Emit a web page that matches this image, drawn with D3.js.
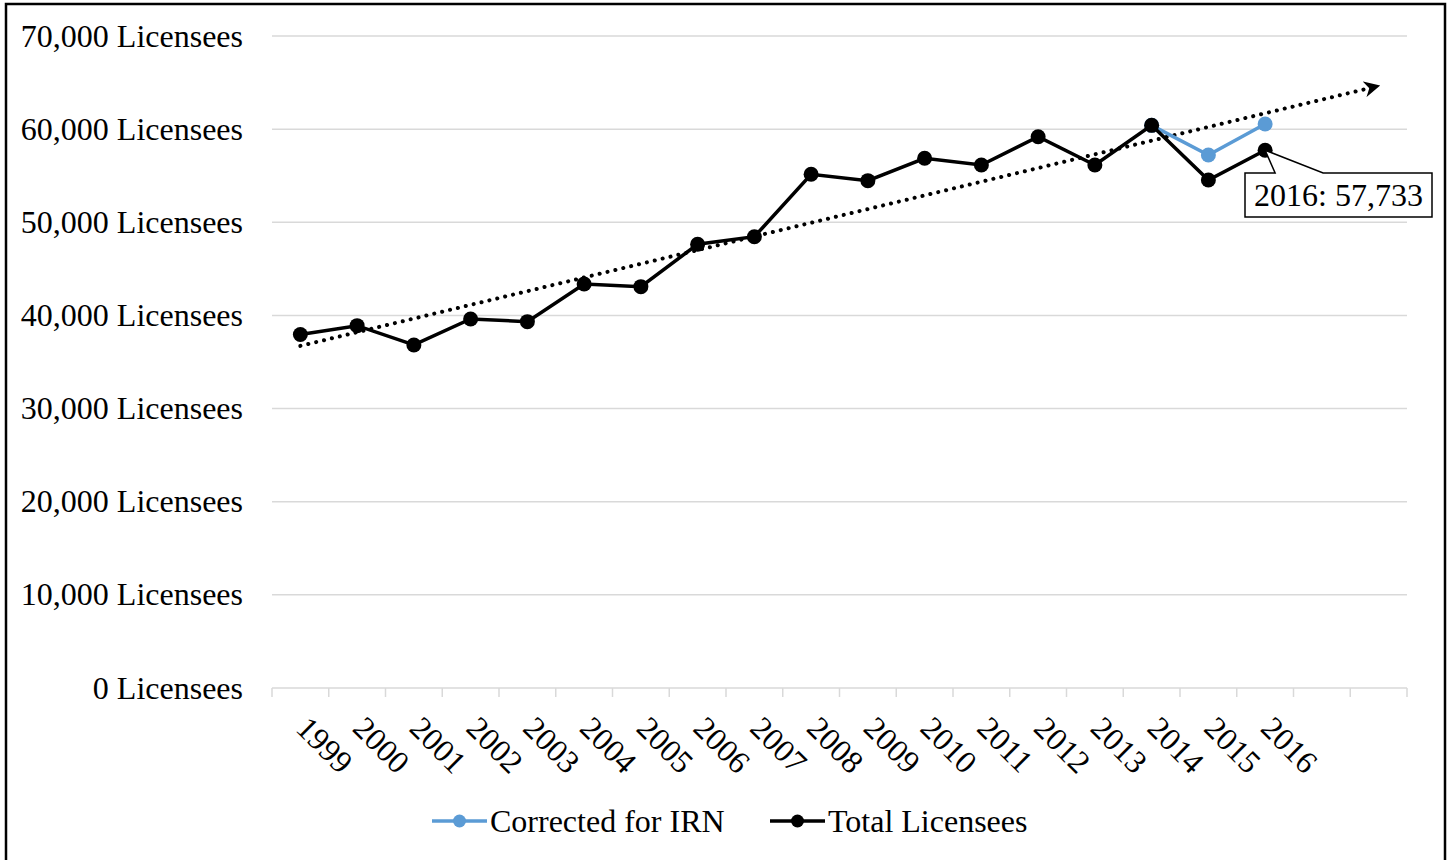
<!DOCTYPE html>
<html>
  <head>
    <script src="https://d3js.org/d3.v7.min.js"></script>
    <style>
      body { margin: 0; background: #fff; }
      text { font-family: "Liberation Serif", "Times New Roman", serif; }
    </style>
  </head>
  <body>
    <div id="chart"></div>
    <script>
      // data
      const years = ["1999","2000","2001","2002","2003","2004","2005","2006","2007","2008",
                     "2009","2010","2011","2012","2013","2014","2015","2016"];
      // two empty slots at the end of the axis (trend forecast room)
      const extraSlots = ["2017","2018"];
      const totalLicensees = [37950, 38900, 36830, 39620, 39330, 43380, 43090, 47640, 48450, 55150,
                              54470, 56870, 56150, 59190, 56150, 60410, 54540, 57733];
      const correctedYears = ["2014","2015","2016"];
      const correctedValues = [60410, 57230, 60550];
      const yTicks = [0, 10000, 20000, 30000, 40000, 50000, 60000, 70000];
      const seriesNames = ["Corrected for IRN", "Total Licensees"];
      const seriesColors = ["#5b9bd5", "#000000"];
      const calloutText = "2016: 57,733";

      const width = 1452, height = 860;
      const margin = {top: 36, right: 45, bottom: 172, left: 272};
      const fontSize = 32;

      const svg = d3.create("svg")
        .attr("width", width)
        .attr("height", height);

      // outer frame
      svg.append("rect")
        .attr("x", 6).attr("y", 4)
        .attr("width", 1439).attr("height", 870)
        .attr("fill", "none")
        .attr("stroke", "#000")
        .attr("stroke-width", 2.5);

      const x = d3.scaleBand()
        .domain(years.concat(extraSlots))
        .range([margin.left, width - margin.right]);

      const y = d3.scaleLinear()
        .domain([0, 70000])
        .range([height - margin.bottom, margin.top]);

      const cx = d => x(d) + x.bandwidth() / 2;

      // gridlines
      svg.append("g")
        .selectAll("line")
        .data(yTicks.filter(d => d > 0))
        .join("line")
        .attr("x1", margin.left).attr("x2", width - margin.right)
        .attr("y1", d => y(d)).attr("y2", d => y(d))
        .attr("stroke", "#d9d9d9")
        .attr("stroke-width", 1.5);

      // y labels
      svg.append("g")
        .selectAll("text")
        .data(yTicks)
        .join("text")
        .attr("x", 243)
        .attr("y", d => y(d))
        .attr("dy", "0.33em")
        .attr("text-anchor", "end")
        .attr("font-size", fontSize)
        .text(d => d3.format(",")(d) + " Licensees");

      // x axis
      const xAxis = svg.append("g");
      xAxis.append("line")
        .attr("x1", margin.left).attr("x2", width - margin.right)
        .attr("y1", y(0)).attr("y2", y(0))
        .attr("stroke", "#d9d9d9").attr("stroke-width", 1.5);
      const bounds = x.domain().map(d => x(d)).concat([x.range()[1]]);
      xAxis.selectAll("line.tick")
        .data(bounds)
        .join("line")
        .attr("class", "tick")
        .attr("x1", d => d).attr("x2", d => d)
        .attr("y1", y(0)).attr("y2", y(0) + 9)
        .attr("stroke", "#d9d9d9").attr("stroke-width", 1.5);
      xAxis.selectAll("text")
        .data(years)
        .join("text")
        .attr("transform", d => `translate(${cx(d) - 6},${y(0) + 42}) rotate(45)`)
        .attr("font-size", fontSize)
        .text(d => d);

      // linear trend of total licensees, extended two periods forward
      const idx = totalLicensees.map((v, i) => i);
      const mx = d3.mean(idx), my = d3.mean(totalLicensees);
      const slope = d3.sum(idx, i => (i - mx) * (totalLicensees[i] - my)) /
                    d3.sum(idx, i => (i - mx) * (i - mx));
      const intercept = my - slope * mx;
      const lastIdx = years.length - 1 + extraSlots.length;
      const trendStart = intercept, trendEnd = intercept + slope * lastIdx;
      const allCats = x.domain();

      svg.append("defs").append("marker")
        .attr("id", "arrow")
        .attr("viewBox", "0 0 10 10")
        .attr("refX", 9).attr("refY", 5)
        .attr("markerWidth", 4).attr("markerHeight", 4)
        .attr("markerUnits", "strokeWidth")
        .attr("orient", "auto")
        .append("path")
        .attr("d", "M0,0 L10,5 L0,10 L3,5 Z")
        .attr("fill", "#000");

      svg.append("line")
        .attr("x1", cx(allCats[0])).attr("y1", y(trendStart))
        .attr("x2", cx(allCats[lastIdx])).attr("y2", y(trendEnd))
        .attr("stroke", "#000")
        .attr("stroke-width", 4)
        .attr("stroke-linecap", "round")
        .attr("stroke-dasharray", "0.1 8")
        .attr("marker-end", "url(#arrow)");

      // series lines
      const line = d3.line().x(d => cx(d.year)).y(d => y(d.value));
      const correctedData = correctedYears.map((d, i) => ({year: d, value: correctedValues[i]}));
      const totalData = years.map((d, i) => ({year: d, value: totalLicensees[i]}));

      svg.append("path")
        .datum(correctedData)
        .attr("d", line)
        .attr("fill", "none")
        .attr("stroke", seriesColors[0])
        .attr("stroke-width", 3.5);
      svg.append("g").selectAll("circle")
        .data(correctedData)
        .join("circle")
        .attr("cx", d => cx(d.year)).attr("cy", d => y(d.value))
        .attr("r", 7.5)
        .attr("fill", seriesColors[0]);

      svg.append("path")
        .datum(totalData)
        .attr("d", line)
        .attr("fill", "none")
        .attr("stroke", seriesColors[1])
        .attr("stroke-width", 3.5);
      svg.append("g").selectAll("circle")
        .data(totalData)
        .join("circle")
        .attr("cx", d => cx(d.year)).attr("cy", d => y(d.value))
        .attr("r", 7.5)
        .attr("fill", seriesColors[1]);

      // callout for last point
      const last = totalData[totalData.length - 1];
      const px = cx(last.year), py = y(last.value);
      const bx0 = 1245, bx1 = 1432, by0 = 173, by1 = 217;
      svg.append("path")
        .attr("d", `M${bx0},${by0} L${px + 10},${by0} L${px},${py} L${px + 58},${by0} L${bx1},${by0} L${bx1},${by1} L${bx0},${by1} Z`)
        .attr("fill", "#fff")
        .attr("stroke", "#000")
        .attr("stroke-width", 1.5);
      svg.append("text")
        .attr("x", (bx0 + bx1) / 2)
        .attr("y", (by0 + by1) / 2)
        .attr("dy", "0.35em")
        .attr("text-anchor", "middle")
        .attr("font-size", fontSize)
        .text(calloutText);

      // legend
      const legend = svg.append("g");
      const legendX = [432, 770];
      seriesNames.forEach((name, i) => {
        const g = legend.append("g").attr("transform", `translate(${legendX[i]},821)`);
        g.append("line")
          .attr("x1", 0).attr("x2", 55)
          .attr("stroke", seriesColors[i]).attr("stroke-width", 3.5);
        g.append("circle")
          .attr("cx", 27.5).attr("r", 6.5)
          .attr("fill", seriesColors[i]);
        g.append("text")
          .attr("x", 58).attr("dy", "0.33em")
          .attr("font-size", fontSize)
          .text(name);
      });

      document.getElementById("chart").appendChild(svg.node());
    </script>
  </body>
</html>
